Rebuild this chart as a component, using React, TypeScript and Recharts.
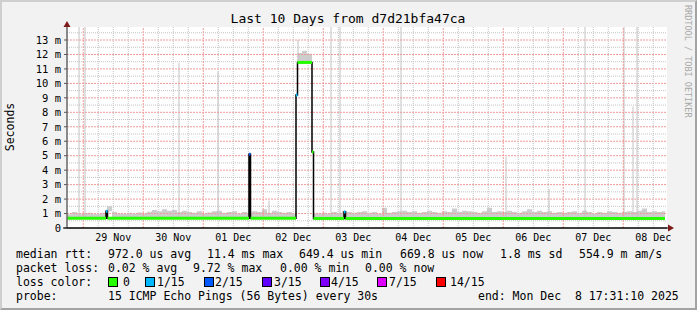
import React from 'react';
import { ComposedChart, Line, Area, XAxis, YAxis, ReferenceLine, CartesianGrid } from 'recharts';

// time axis is hours since the graph start (Fri 28 Nov 17:31)
const dayLabels = ['29 Nov', '30 Nov', '01 Dec', '02 Dec', '03 Dec', '04 Dec', '05 Dec', '06 Dec', '07 Dec', '08 Dec'];
const dayNoonHours = [18.5, 42.5, 66.5, 90.5, 114.5, 138.5, 162.5, 186.5, 210.5, 234.5];
const midnightHours = [6.5, 30.5, 54.5, 78.5, 102.5, 126.5, 150.5, 174.5, 198.5, 222.5];
const yTicks = [0, 1, 2, 3, 4, 5, 6, 7, 8, 9, 10, 11, 12, 13];

// median rtt (ms), step changes
const medianTimes = [0, 15.6, 16.2, 72.8, 73.4, 91.6, 92.2, 98.0, 98.6, 110.8, 111.4, 239.2];
const medianValues = [0.68, 1.15, 0.68, 5.1, 0.68, 9.2, 11.45, 5.25, 0.66, 1.1, 0.66, 0.66];
const medianLoss = ['0', '1/15', '0', '2/15', '0', '1/15', '0', '0', '0', '1/15', '0'];

// smoke (upper edge of the ping spread, ms)
const smokeTimes = [
  0, 2, 4, 6, 8, 10, 12, 14, 16, 18, 20, 22, 24, 26, 28, 30, 32, 34, 36, 38, 40, 42, 44, 46,
  48, 50, 52, 54, 56, 58, 60, 62, 64, 66, 68, 70, 72, 74, 76, 78, 80, 82, 84, 86, 88, 90,
  91.6, 92.2, 94, 96, 98.0, 98.6,
  100, 102, 104, 106, 108, 110, 112, 114, 116, 118, 120, 122, 124, 126, 128, 130, 132, 134,
  136, 138, 140, 142, 144, 146, 148, 150, 152, 154, 156, 158, 160, 162, 164, 166, 168, 170,
  172, 174, 176, 178, 180, 182, 184, 186, 188, 190, 192, 194, 196, 198, 200, 202, 204, 206,
  208, 210, 212, 214, 216, 218, 220, 222, 224, 226, 228, 230, 232, 234, 236, 238, 239.2,
];
const smokeHigh = [
  0.95, 1.1, 0.98, 1.0, 1.05, 0.97, 1.0, 1.05, 1.5, 1.1, 1.0, 0.98, 1.05, 1.0, 1.08, 1.0, 1.12, 1.25, 1.15, 1.3, 1.2, 1.25, 1.1, 1.2,
  1.1, 1.05, 1.15, 1.0, 1.08, 1.15, 1.2, 1.05, 1.1, 1.15, 1.0, 1.1, 1.05, 1.15, 1.1, 1.3, 1.05, 1.2, 1.1, 1.05, 1.1, 1.0,
  9.2, 12.1, 12.25, 12.05, 5.25, 1.0,
  1.0, 1.05, 1.0, 1.1, 1.05, 1.2, 1.1, 1.05, 1.1, 1.15, 1.05, 1.1, 1.0, 1.4, 1.05, 1.1, 1.15, 1.2,
  1.1, 1.15, 1.05, 1.1, 1.2, 1.1, 1.05, 1.15, 1.1, 1.35, 1.1, 1.2, 1.15, 1.1, 1.05, 1.15, 1.4, 1.1,
  1.15, 1.1, 1.2, 1.1, 1.05, 1.15, 1.3, 1.1, 1.2, 1.1, 1.15, 1.05, 1.1, 1.05, 1.1, 1.15, 1.05, 1.2,
  1.1, 1.0, 1.1, 1.05, 1.15, 1.1, 1.05, 1.1, 1.15, 1.1, 1.2, 1.35, 1.1, 1.15, 1.1, 1.15, 1.15,
];

// single outlier pings
const spikeTimes = [4.8, 7.2, 44.8, 60.4, 80.8, 92.4, 105.6, 109.2, 133.6, 175.6, 192.8, 207.2, 222.8, 226.4, 228.0];
const spikeTops = [13.9, 13.9, 11.4, 10.8, 1.9, 13.0, 13.9, 13.9, 13.9, 4.9, 2.7, 13.9, 13.9, 8.4, 13.9];

const lossColors: Record<string, string> = {
  '0': '#26ff00',
  '1/15': '#00b8ff',
  '2/15': '#0059ff',
  '3/15': '#5e00ff',
  '4/15': '#7e00ff',
  '7/15': '#dd00ff',
  '14/15': '#ff0000',
};

const medianAt = (t: number) => {
  let v = medianValues[0];
  medianTimes.forEach((mt, i) => {
    if (mt <= t) v = medianValues[i];
  });
  return v;
};

const medianData = medianTimes.map((t, i) => ({ t, v: medianValues[i] }));
const smokeData = smokeTimes.map((t, i) => ({ t, range: [medianAt(t), smokeHigh[i]] }));
const segments = medianLoss.map((loss, i) => ({
  color: lossColors[loss],
  data: [
    { t: medianTimes[i], v: medianValues[i] },
    { t: medianTimes[i + 1], v: medianValues[i] },
  ],
}));
const spikes = spikeTimes.map((t, i) => [
  { t, v: medianAt(t) },
  { t, v: spikeTops[i] },
]);

const sixHourLines: number[] = [];
midnightHours.forEach((m) => {
  [m + 6, m + 12, m + 18].forEach((h) => h < 240 && sixHourLines.push(h));
});
const halfLines = yTicks.map((v) => v + 0.5);

const mono = 'DejaVu Sans Mono, monospace';

const legendRows = [
  { y: 254, parts: [[16, 'median rtt:'], [108, '972.0 us avg'], [207, '11.4 ms max'], [299, '649.4 us min'], [400, '669.8 us now'], [500, '1.8 ms sd'], [579, '554.9 m am/s']] },
  { y: 268, parts: [[16, 'packet loss:'], [108, '0.02 % avg'], [193, '9.72 % max'], [280, '0.00 % min'], [365, '0.00 % now']] },
  { y: 296, parts: [[16, 'probe:'], [108, '15 ICMP Echo Pings (56 Bytes) every 30s'], [478, 'end: Mon Dec  8 17:31:10 2025']] },
];
const lossLegend = [
  { key: '0', box: 108, text: 123 },
  { key: '1/15', box: 145, text: 157 },
  { key: '2/15', box: 204, text: 215 },
  { key: '3/15', box: 262, text: 274 },
  { key: '4/15', box: 320, text: 331 },
  { key: '7/15', box: 377, text: 389 },
  { key: '14/15', box: 436, text: 450 },
];

const textStyle = (x: number, y: number): React.CSSProperties => ({
  position: 'absolute',
  left: x,
  top: y - 7,
  lineHeight: '14px',
  fontSize: 11.5,
  fontFamily: mono,
  whiteSpace: 'pre',
  color: '#000',
});

export default function App() {
  return (
    <div
      style={{
        position: 'absolute',
        left: 0,
        top: 0,
        width: 697,
        height: 310,
        boxSizing: 'border-box',
        background: '#f2f2f2',
        borderTop: '2px solid #cfcfcf',
        borderLeft: '2px solid #cfcfcf',
        borderRight: '2px solid #a3a3a3',
        borderBottom: '2px solid #a3a3a3',
        overflow: 'hidden',
      }}
    >
      <div style={{ position: 'absolute', left: -2, top: -2 }}>
        <ComposedChart width={697} height={310} margin={{ top: 27, right: 30, bottom: 62, left: 17 }}>
          <CartesianGrid horizontal={false} vertical={false} fill="#ffffff" />
          <XAxis
            dataKey="t"
            type="number"
            domain={[0, 240]}
            ticks={dayNoonHours}
            interval={0}
            tickFormatter={(v: number) => dayLabels[dayNoonHours.indexOf(v)]}
            tickSize={0}
            tickMargin={6}
            height={20}
            axisLine={{ stroke: '#000' }}
            tick={{ fontFamily: mono, fontSize: 10, fill: '#000' }}
            allowDataOverflow
          />
          <YAxis
            type="number"
            domain={[0, 13.9]}
            ticks={yTicks}
            interval={0}
            tickFormatter={(v: number) => (v === 0 ? '0' : `${v} m`)}
            width={50}
            tickSize={3}
            tickMargin={3}
            axisLine={{ stroke: '#666' }}
            tickLine={{ stroke: '#555' }}
            tick={{ fontFamily: mono, fontSize: 10.5, fill: '#000' }}
            allowDataOverflow
          />
          <Area
            data={smokeData}
            dataKey="range"
            type="stepAfter"
            stroke="none"
            fill="#cdcdcd"
            fillOpacity={1}
            isAnimationActive={false}
          />
          {spikes.map((d, i) => (
            <Line
              key={`s${i}`}
              data={d}
              dataKey="v"
              stroke="#c2c2c2"
              strokeWidth={1}
              dot={false}
              activeDot={false}
              isAnimationActive={false}
            />
          ))}
          {halfLines.map((v) => (
            <ReferenceLine key={`h${v}`} y={v} stroke="#c4c4c4" strokeDasharray="1 1" />
          ))}
          {yTicks.slice(1).map((v) => (
            <ReferenceLine key={`H${v}`} y={v} stroke="#f19a9a" strokeDasharray="2 1" />
          ))}
          {sixHourLines.map((h) => (
            <ReferenceLine key={`v${h}`} x={h} stroke="#c4c4c4" strokeDasharray="1 1" />
          ))}
          {midnightHours.map((h) => (
            <ReferenceLine key={`V${h}`} x={h} stroke="#f19a9a" strokeDasharray="2 1" />
          ))}
          <Line
            data={medianData}
            dataKey="v"
            type="stepAfter"
            stroke="#000"
            strokeWidth={1.5}
            dot={false}
            activeDot={false}
            isAnimationActive={false}
          />
          {segments.map((s, i) => (
            <Line
              key={`m${i}`}
              data={s.data}
              dataKey="v"
              stroke={s.color}
              strokeWidth={3}
              dot={false}
              activeDot={false}
              isAnimationActive={false}
            />
          ))}
        </ComposedChart>
      </div>

      <svg
        width={697}
        height={310}
        style={{ position: 'absolute', left: -2, top: -2, pointerEvents: 'none' }}
      >
        <line x1={67} y1={228} x2={67} y2={24} stroke="#666" />
        <line x1={63} y1={228} x2={669} y2={228} stroke="#000" />
        <polygon points="63.5,27 70.5,27 67,21" fill="#7f1a1a" />
        <polygon points="668,224.5 668,231.5 674,228" fill="#7f1a1a" />
        <text x={348} y={23} textAnchor="middle" fontFamily={mono} fontSize={13} fill="#000">
          Last 10 Days from d7d21bfa47ca
        </text>
        <text
          transform="translate(14,127) rotate(-90)"
          textAnchor="middle"
          fontFamily={mono}
          fontSize={11.5}
          fill="#000"
        >
          Seconds
        </text>
        <text
          transform="translate(685,5) rotate(90)"
          fontFamily={mono}
          fontSize={8.5}
          fill="#a8a8a8"
        >
          RRDTOOL / TOBI OETIKER
        </text>
      </svg>

      <div style={{ position: 'absolute', left: -2, top: -2, width: 697, height: 310 }}>
        {legendRows.map((row) =>
          row.parts.map(([x, s]) => (
            <div key={`${row.y}-${x}`} style={textStyle(x as number, row.y)}>
              {s}
            </div>
          )),
        )}
        <div style={textStyle(16, 282)}>loss color:</div>
        {lossLegend.map((l) => (
          <React.Fragment key={l.key}>
            <div
              style={{
                position: 'absolute',
                left: l.box,
                top: 277,
                width: 8,
                height: 8,
                background: lossColors[l.key],
                border: '1px solid #000',
              }}
            />
            <div style={textStyle(l.text, 282)}>{l.key}</div>
          </React.Fragment>
        ))}
      </div>
    </div>
  );
}
